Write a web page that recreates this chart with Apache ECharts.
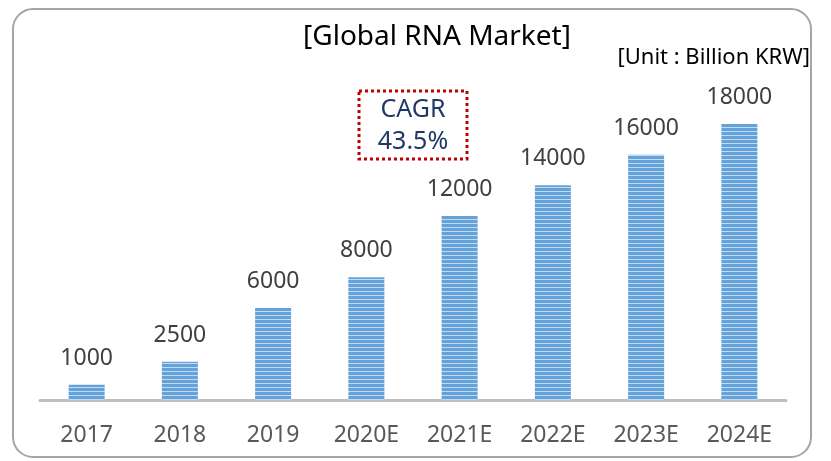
<!DOCTYPE html>
<html>
<head>
<meta charset="utf-8">
<script src="https://cdn.jsdelivr.net/npm/echarts@6/dist/echarts.min.js"></script>
<style>
  html, body { margin: 0; padding: 0; background: #fff; }
  #chart { width: 831px; height: 461px; }
</style>
</head>
<body>
<div id="chart"></div>
<script>
const years = ['2017', '2018', '2019', '2020E', '2021E', '2022E', '2023E', '2024E'];
const market = [1000, 2500, 6000, 8000, 12000, 14000, 16000, 18000];
const titleText = '[Global RNA Market]';
const unitText = '[Unit : Billion KRW]';
const cagrText = 'CAGR\n43.5%';

// striped fill for the bars
function stripes() {
  const c = document.createElement('canvas');
  c.width = 4;
  c.height = 4;
  const ctx = c.getContext('2d');
  ctx.fillStyle = '#64a2da';
  ctx.fillRect(0, 0, 4, 3);
  ctx.fillStyle = '#c2daf2';
  ctx.fillRect(0, 3, 4, 1);
  return c;
}

const chart = echarts.init(document.getElementById('chart'));
const font = '"Noto Sans", "Open Sans", sans-serif';

chart.setOption({
  animation: false,
  textStyle: { fontFamily: font },
  grid: { left: 40, right: 45, top: 32, bottom: 61 },
  xAxis: {
    type: 'category',
    data: years,
    axisLine: { lineStyle: { color: '#bfbfbf', width: 3 } },
    axisTick: { show: false },
    axisLabel: { color: '#595959', fontSize: 23, margin: 24, fontFamily: font }
  },
  yAxis: {
    type: 'value',
    min: 0,
    max: 24000,
    show: false,
    splitLine: { show: false }
  },
  series: [{
    type: 'bar',
    data: market,
    barWidth: 36,
    itemStyle: { color: { image: stripes(), repeat: 'repeat' } },
    label: {
      show: true,
      position: 'top',
      distance: 15,
      color: '#404040',
      fontSize: 23,
      fontFamily: font
    }
  }],
  graphic: [
    {
      type: 'rect',
      shape: { x: 13, y: 9, width: 798, height: 448, r: 20 },
      style: { fill: 'none', stroke: '#a6a6a6', lineWidth: 2 },
      z: -1
    },
    {
      type: 'text',
      x: 437, y: 37,
      style: {
        text: titleText, fill: '#000', font: '28px ' + font,
        textAlign: 'center', textVerticalAlign: 'middle'
      }
    },
    {
      type: 'text',
      x: 810, y: 58,
      style: {
        text: unitText, fill: '#000', font: '22px ' + font,
        textAlign: 'right', textVerticalAlign: 'middle'
      }
    },
    {
      type: 'rect',
      shape: { x: 359, y: 91, width: 108, height: 68 },
      style: { fill: '#fff', stroke: '#c00000', lineWidth: 3, lineDash: [3, 3] }
    },
    {
      type: 'text',
      x: 413, y: 126,
      style: {
        text: cagrText, fill: '#1f3864', font: '25px ' + font,
        textAlign: 'center', textVerticalAlign: 'middle', lineHeight: 32
      }
    }
  ]
});
</script>
</body>
</html>
